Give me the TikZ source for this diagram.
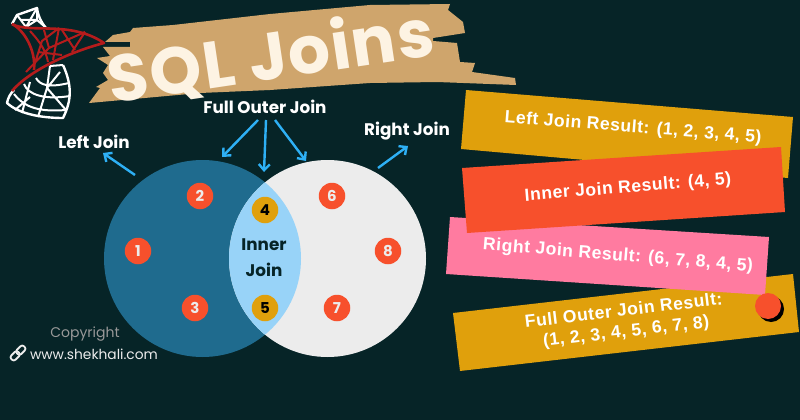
\documentclass[tikz,border=0pt]{standalone}
\usepackage{fontspec}
\setmainfont{Liberation Sans}
\newfontfamily\spartan{Poppins}
\usetikzlibrary{arrows.meta}
\definecolor{bgdark}{HTML}{062427}
\definecolor{leftblue}{HTML}{1F6B8E}
\definecolor{lensblue}{HTML}{98D3F8}
\definecolor{rightgray}{HTML}{ECECEC}
\definecolor{tomato}{HTML}{F7502C}
\definecolor{gold}{HTML}{E0A00C}
\definecolor{rosepink}{HTML}{FF7BA0}
\definecolor{brush}{HTML}{CFA56C}
\definecolor{cream}{HTML}{FDF3E3}
\definecolor{arrowblue}{HTML}{2EB0F5}
\definecolor{logored}{HTML}{B51C1C}
\tikzset{
  redball/.style={circle,fill=tomato,minimum size=26.5pt,inner sep=0pt,text=rightgray,font=\spartan\bfseries\fontsize{15}{15}\selectfont},
  goldball/.style={circle,fill=gold,minimum size=26.5pt,inner sep=0pt,text=black,font=\spartan\bfseries\fontsize{15}{15}\selectfont},
  joinlabel/.style={text=white,inner sep=0pt,font=\spartan\bfseries\fontsize{16.8}{16.8}\selectfont},
  resulttext/.style={text=white,inner sep=0pt,align=center,font=\bfseries\fontsize{17.6}{21}\selectfont\addfontfeature{LetterSpace=3}},
  pointer/.style={draw=arrowblue,line width=2.4pt,-{Straight Barb[length=6pt,width=11pt,line width=2.4pt]}},
  whitenet/.style={draw=white,line width=2pt,line join=round},
  rednet/.style={draw=logored,line width=2pt,line join=round},
}
\begin{document}
\begin{tikzpicture}[x=1pt,y=-1pt]
  \useasboundingbox (0,0) rectangle (800,420);
  \fill[bgdark] (0,0) rectangle (800,420);

  % ========== Logo ==========
  \begin{scope}
    \path[whitenet,line width=2.4pt] (12,24) -- (17,15) -- (37,8) .. controls (38,16) and (41,22) .. (46,28);
    \path[whitenet] (17,15) -- (26,27) (37,8) -- (26,27) -- (37,20) -- (37,8) (20,20) -- (37,20) -- (44,26);
    \path[whitenet,line width=2.4pt] (63,65) .. controls (72,85) and (72,100) .. (63,118) .. controls (45,118) and (20,115) .. (7,103) .. controls (8,98) and (10,94) .. (14,90);
    \path[whitenet] (50,66) -- (63,65) (36,78) .. controls (40,85) and (48,88) .. (69,83)
      (24,84) .. controls (28,95) and (45,100) .. (70,96)
      (14,94) .. controls (25,108) and (40,112) .. (66,110)
      (50,66) -- (47,88) -- (38,117) (60,72) -- (47,88)
      (30,82) -- (22,113) (47,88) -- (66,110) (30,97) -- (15,110);
    \path[rednet,line width=2.6pt] (12,24) .. controls (30,34) and (70,20) .. (104,43) .. controls (70,52) and (30,70) .. (12,91);
    \path[rednet,line width=2.6pt] (12,24) .. controls (24,30) and (36,50) .. (34,70);
    \path[rednet] (30,31) .. controls (42,44) and (46,52) .. (48,62)
      (59,28) -- (42,41) -- (34,66) (59,28) -- (53,60) (38,52) -- (62,55)
      (44,30) -- (49,48) -- (26,72) (49,48) -- (85,32) (85,32) -- (72,52) (62,30) -- (75,50);
  \end{scope}

  % ========== Title ==========
  \fill[brush] (89,103) -- (100,88) -- (96,87) -- (108,80) -- (103,73) -- (108,65) -- (97,58) -- (110,56)
    -- (103,47) -- (130,47) -- (130,42) -- (105,42) -- (113,35) -- (130,32) -- (133,28) -- (173,25)
    -- (270,14) -- (370,5) -- (450,4) -- (448,10) -- (463,22) -- (465,33) -- (433,38) -- (433,41)
    -- (457,43) -- (460,62) -- (475,63) -- (472,72) -- (515,78) -- (516,85) -- (437,82) -- (370,83)
    -- (270,90) -- (200,93) -- cycle;
  \node[text=cream,inner sep=0pt,rotate=8.5,font=\spartan\bfseries\fontsize{66}{66}\selectfont\addfontfeature{LetterSpace=2}] (title) at (271,57) {SQL Joins};

  % ========== Venn ==========
  \fill[leftblue] (202.5,258.5) circle (98.5);
  \fill[rightgray] (327.5,258.5) circle (98.5);
  \begin{scope}
    \clip (202.5,258.5) circle (98.5);
    \fill[lensblue] (327.5,258.5) circle (98.5);
  \end{scope}
  \node[redball] (one) at (138,251) {1};
  \node[redball] (two) at (200,196) {2};
  \node[redball] (three) at (195,308) {3};
  \node[goldball] (four) at (265,210) {4};
  \node[goldball] (five) at (265,308) {5};
  \node[redball] (six) at (332,196) {6};
  \node[redball] (seven) at (337,308) {7};
  \node[redball] (eight) at (388,251) {8};
  \node[text=bgdark,inner sep=0pt,align=center,font=\spartan\bfseries\fontsize{16.8}{26}\selectfont] (inner) at (264,258) {Inner\\Join};

  % ========== Labels and arrows ==========
  \node[joinlabel] (leftjoin) at (94,142) {Left Join};
  \node[joinlabel] (fullouter) at (265,107) {Full Outer Join};
  \node[joinlabel] (rightjoin) at (407,131) {Right Join};
  \coordinate (lefttail) at (135,175);
  \coordinate (lefthead) at (103,153);
  \coordinate (fulltaila) at (258,120);
  \coordinate (fullheada) at (222,157);
  \coordinate (fulltailb) at (266,120);
  \coordinate (fullheadb) at (264,172);
  \coordinate (fulltailc) at (275,120);
  \coordinate (fullheadc) at (306,161);
  \coordinate (righttail) at (378,168);
  \coordinate (righthead) at (408,146);
  \draw[pointer] (lefttail) -- (lefthead);
  \draw[pointer] (fulltaila) -- (fullheada);
  \draw[pointer] (fulltailb) -- (fullheadb);
  \draw[pointer] (fulltailc) -- (fullheadc);
  \draw[pointer] (righttail) -- (righthead);

  % ========== Result banners ==========
  \fill[gold] (466,90) -- (793,117) -- (788,178) -- (461,149) -- cycle;
  \fill[gold] (453,313) -- (793,274) -- (799,332) -- (460,371) -- cycle;
  \fill[rosepink] (450,217) -- (769,237) -- (765,295) -- (446,274) -- cycle;
  \fill[tomato] (462,168) -- (781,147) -- (785,212) -- (467,233) -- cycle;
  \node[resulttext,rotate=-4.5] (leftresult) at (633,128) {Left Join Result: (1, 2, 3, 4, 5)};
  \node[resulttext,rotate=4.7] (innerresult) at (628,188) {Inner Join Result: (4, 5)};
  \node[resulttext,rotate=-4.6] (rightresult) at (618,256) {Right Join Result: (6, 7, 8, 4, 5)};
  \node[resulttext,rotate=6.7] (fullresult) at (625,322) {Full Outer Join Result:\\(1, 2, 3, 4, 5, 6, 7, 8)};
  \fill[black] (771,309) circle (13);
  \fill[tomato] (768,306) circle (13);

  % ========== Copyright ==========
  \node[text=gray!80!white,inner sep=0pt,font=\spartan\fontsize{14}{14}\selectfont] (copyright) at (85,334) {Copyright};
  \node[text=rightgray,inner sep=0pt,font=\spartan\fontsize{13.8}{14}\selectfont] (website) at (94,354) {www.shekhali.com};
  \begin{scope}[shift={(18,353)},rotate=45]
    \draw[rightgray,line width=1.8pt,rounded corners=2.5pt] (-9,-3) rectangle (1,3);
    \draw[rightgray,line width=1.8pt,rounded corners=2.5pt] (-1,-3) rectangle (9,3);
  \end{scope}
\end{tikzpicture}
\end{document}
